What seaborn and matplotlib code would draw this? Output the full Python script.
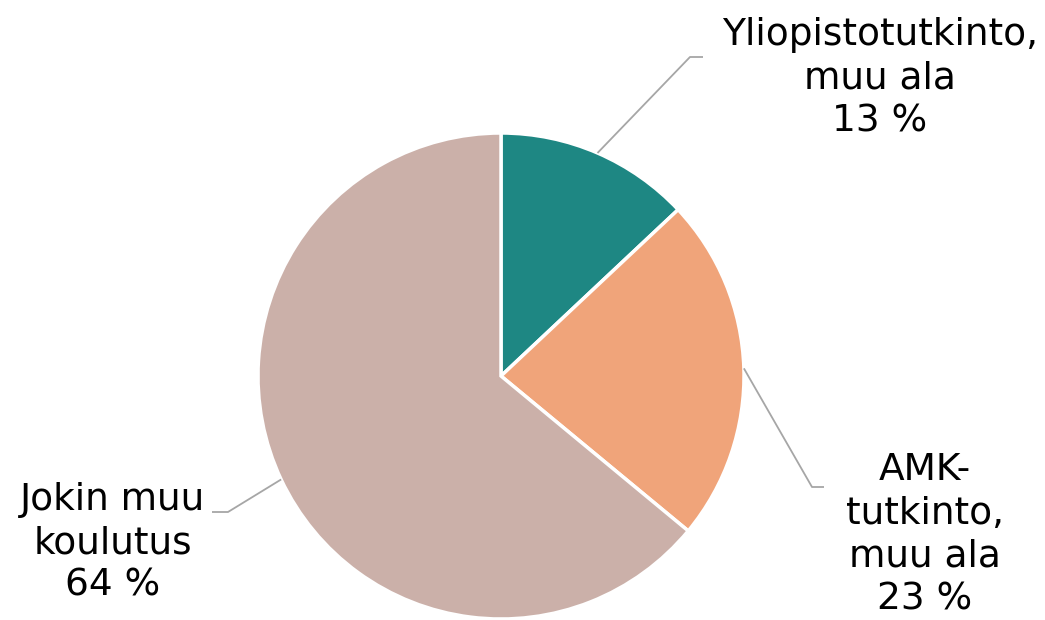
import numpy as np
import matplotlib.pyplot as plt
import seaborn as sns

sns.set_style("white")
plt.rcParams['font.family'] = ['DejaVu Sans']

labels = ["Yliopistotutkinto,\nmuu ala", "AMK-\ntutkinto,\nmuu ala", "Jokin muu\nkoulutus"]
shares = [13, 23, 64]
colors = ["#1E8783", "#F0A47A", "#CBB0A9"]

# pie centre / radius in pixels of the reference
CX, CY, R = 501, 376, 243
W, H = 1045, 620


def px(x, y):
    return (x - CX) / R, (CY - y) / R


fig = plt.figure(figsize=(W / 100, H / 100), dpi=100)
ax = fig.add_axes([0, 0, 1, 1])
wedges, _ = ax.pie(shares, colors=colors, startangle=90, counterclock=False,
                   wedgeprops=dict(edgecolor='white', linewidth=2.5))
ax.set_xlim(-CX / R, (W - CX) / R)
ax.set_ylim(-(H - CY) / R, CY / R)
ax.set_aspect('equal')
ax.axis('off')

# elbow, end of leader, label centre (pixels)
layout = [
    ((690, 57), (703, 57), (880, 78)),
    ((812, 487), (824, 487), (925, 535)),
    ((228, 512), (212, 512), (113, 543)),
]

for w, lab, share, (elbow, end, txt) in zip(wedges, labels, shares, layout):
    ang = np.deg2rad((w.theta1 + w.theta2) / 2)
    x0, y0 = np.cos(ang), np.sin(ang)
    ex, ey = px(*elbow)
    nx, ny = px(*end)
    ax.plot([x0, ex, nx], [y0, ey, ny], color='#A6A6A6', linewidth=1.3, solid_capstyle='butt')
    tx, ty = px(*txt)
    ax.text(tx, ty, f"{lab}\n{share} %", ha='center', va='center', fontsize=27,
            linespacing=1.25, color='black')

fig.savefig('out.png', dpi=100)
